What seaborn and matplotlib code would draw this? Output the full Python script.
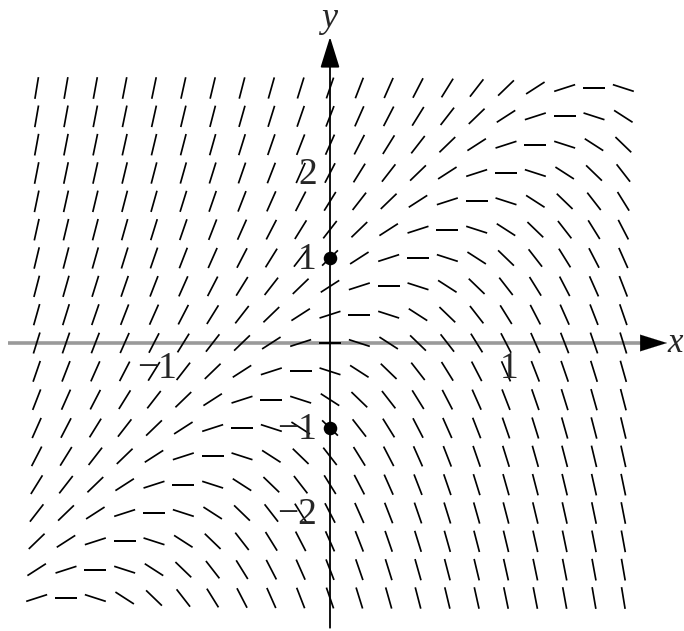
import matplotlib
matplotlib.use("Agg")
import matplotlib.pyplot as plt
import seaborn as sns
import numpy as np

# slope field dy/dx = 2y - 4x, sampled on a regular grid
grid_x = np.arange(-10, 11) / 6
grid_y = np.arange(-9, 10) / 3
marked_x = [0, 0]
marked_y = [1, -1]
xtick_vals = [-1, 1]
xtick_text = ["\u22121", "1"]
ytick_vals = [2, 1, -1, -2]
ytick_text = ["2", "1", "\u22121", "\u22122"]


def slope(x, y):
    return 2 * y - 4 * x


sns.set_style("white")
plt.rcParams["font.family"] = ["Liberation Serif", "DejaVu Serif"]

fig = plt.figure(figsize=(6.84, 6.31), dpi=100)
ax = fig.add_axes([0, 0, 1, 1])
ax.set_xlim(-330 / 176, 354 / 176)
ax.set_ylim(-288 / 85, 343 / 85)
ax.axis("off")

# axes
ax.plot([-1.83, 1.77], [0, 0], color="#9a9a9a", lw=2.6, zorder=1, solid_capstyle="butt")
ax.annotate("", xy=(1.915, 0), xytext=(1.76, 0),
            arrowprops=dict(arrowstyle="-|>,head_length=0.8,head_width=0.25", color="black",
                            lw=0.1, mutation_scale=24, shrinkA=0, shrinkB=0), zorder=3)
ax.annotate("", xy=(0, 3.6), xytext=(0, -3.35),
            arrowprops=dict(arrowstyle="-|>,head_length=0.8,head_width=0.25", color="black",
                            lw=1.3, mutation_scale=24, shrinkA=0, shrinkB=0), zorder=3)

# slope dashes, fixed length on screen
X, Y = np.meshgrid(grid_x, grid_y)
S = slope(X, Y)
d = 1e-3
p0 = ax.transData.transform(np.column_stack([X.ravel(), Y.ravel()]))
p1 = ax.transData.transform(np.column_stack([X.ravel() + d, Y.ravel() + S.ravel() * d]))
ang = np.degrees(np.arctan2(p1[:, 1] - p0[:, 1], p1[:, 0] - p0[:, 0]))
ax.quiver(X.ravel(), Y.ravel(), np.ones(X.size), np.zeros(X.size), angles=ang,
          pivot="middle", headwidth=0, headlength=0, headaxislength=0,
          scale_units="dots", scale=1 / 22, units="dots", width=1.7,
          color="black", zorder=4)

sns.scatterplot(x=marked_x, y=marked_y, s=95, color="black", linewidth=0, ax=ax, zorder=5)

for v, t in zip(ytick_vals, ytick_text):
    ax.annotate(t, xy=(0, v), xytext=(-9.5, -1), textcoords="offset points",
                ha="right", va="center", fontsize=27, zorder=6)
for v, t in zip(xtick_vals, xtick_text):
    ax.annotate(t, xy=(v, 0), xytext=(2, -6), textcoords="offset points",
                ha="center", va="top", fontsize=27, zorder=6)

ax.annotate("y", xy=(0, 3.6), xytext=(-1, 13), textcoords="offset points",
            ha="center", va="center", fontsize=26, style="italic")
ax.annotate("x", xy=(1.915, 0), xytext=(0, 0), textcoords="offset points",
            ha="left", va="center", fontsize=25, style="italic")

fig.savefig("out.png", dpi=100)
